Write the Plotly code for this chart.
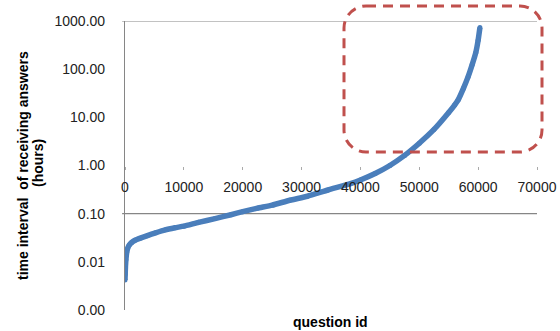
import plotly.graph_objects as go

# data
question_id = [0, 30, 60, 100, 150, 220, 300, 450, 700, 1100, 1700, 2600, 3800, 5200, 6800,
               8500, 10000, 12500, 15300, 18000, 20000, 22500, 25000, 28000, 31000, 34500,
               38300, 40000, 42500, 45000, 47500, 50000, 52500, 55000, 56000, 56600, 57500,
               58300, 59000, 59600, 60000, 60300]
interval_hours = [0.0042, 0.0055, 0.007, 0.009, 0.011, 0.0135, 0.016, 0.019, 0.022, 0.025,
                  0.028, 0.031, 0.035, 0.040, 0.046, 0.051, 0.055, 0.066, 0.079, 0.095, 0.11,
                  0.13, 0.15, 0.19, 0.23, 0.31, 0.42, 0.50, 0.68, 1.0, 1.62, 2.9, 5.6, 12.6,
                  18, 23, 40, 70, 126, 220, 400, 730]

y_tickvals = [0.001, 0.01, 0.1, 1, 10, 100, 1000]
y_ticktext = ["0.00", "0.01", "0.10", "1.00", "10.00", "100.00", "1000.00"]
x_tickvals = [0, 10000, 20000, 30000, 40000, 50000, 60000, 70000]
x_ticktext = ["0", "10000", "20000", "30000", "40000", "50000", "60000", "70000"]

fig = go.Figure()
fig.add_trace(go.Scatter(
    x=question_id, y=interval_hours, mode="lines+markers",
    line=dict(color="#4A7EBB", width=5.5, shape="spline", smoothing=0.5),
    marker=dict(color="#4A7EBB", size=5),
    showlegend=False, hoverinfo="skip"))

W, H = 560, 331
# plot area on screen: x 125..537, y 21..310
SX0, SX1, SY0, SY1 = 125, 537, 21, 310
L, R, T, B = SX0, W - SX1, SY0, H - SY1
pw, ph = SX1 - SX0, SY1 - SY0

def px_to_paper(sx, sy):
    return (sx - SX0) / pw, (SY1 - sy) / ph

# rounded dashed rectangle (pixel geometry converted to paper coords)
x0, y1 = px_to_paper(344, 6)
x1, y0 = px_to_paper(542, 152)
rx, ry = 22 / pw, 22 / ph
k = 0.5523
path = (f"M {x0+rx},{y1} L {x1-rx},{y1} "
        f"C {x1-rx+k*rx},{y1} {x1},{y1-ry+k*ry} {x1},{y1-ry} "
        f"L {x1},{y0+ry} "
        f"C {x1},{y0+ry-k*ry} {x1-rx+k*rx},{y0} {x1-rx},{y0} "
        f"L {x0+rx},{y0} "
        f"C {x0+rx-k*rx},{y0} {x0},{y0+ry-k*ry} {x0},{y0+ry} "
        f"L {x0},{y1-ry} "
        f"C {x0},{y1-ry+k*ry} {x0+rx-k*rx},{y1} {x0+rx},{y1} Z")
fig.add_shape(type="path", path=path, xref="paper", yref="paper",
              line=dict(color="#C0504D", width=3, dash="10px,7px"), layer="above")

# horizontal gray lines at 1000 and 0.1
for yv in [1000, 0.1]:
    fig.add_shape(type="line", xref="paper", yref="y", x0=-0.007, x1=1.0, y0=yv, y1=yv,
                  line=dict(color="#868686", width=1.2), layer="below")

y1x, y1y = px_to_paper(23, 166)
y2x, y2y = px_to_paper(38, 163)
xtx, xty = px_to_paper(330, 322)

fig.update_layout(
    width=W, height=H, margin=dict(l=L, r=R, t=T, b=B, autoexpand=False),
    paper_bgcolor="white", plot_bgcolor="white",
    font=dict(family="Liberation Sans, Arial, sans-serif", size=14, color="#222222"),
    xaxis=dict(range=[0, 70000], tickvals=x_tickvals, ticktext=x_ticktext,
               showgrid=False, zeroline=False, showline=False, automargin=False,
               anchor="free", position=0.5, side="bottom",
               ticks="outside", ticklen=3, tickcolor="#AAAAAA", tickwidth=1,
               ticklabelstandoff=6, tickfont=dict(size=14)),
    yaxis=dict(type="log", range=[-3, 3], tickvals=y_tickvals, ticktext=y_ticktext,
               showgrid=False, zeroline=False, showline=True, linecolor="#868686",
               linewidth=1.2, ticks="", ticklabelstandoff=16, automargin=False,
               tickfont=dict(size=14)),
    annotations=[
        dict(text="<b>time interval  of receiving answers</b>",
             xref="paper", yref="paper", x=y1x, y=y1y,
             showarrow=False, textangle=-90, font=dict(size=14, color="#000000"),
             xanchor="center", yanchor="middle"),
        dict(text="<b>(hours)</b>",
             xref="paper", yref="paper", x=y2x, y=y2y,
             showarrow=False, textangle=-90, font=dict(size=14, color="#000000"),
             xanchor="center", yanchor="middle"),
        dict(text="<b>question id</b>", xref="paper", yref="paper",
             x=xtx, y=xty, showarrow=False,
             font=dict(size=14, color="#000000"), xanchor="center", yanchor="middle"),
    ],
)

fig.write_html("out.html", config={"displayModeBar": False},
               post_script="document.body.style.margin='0px';")
